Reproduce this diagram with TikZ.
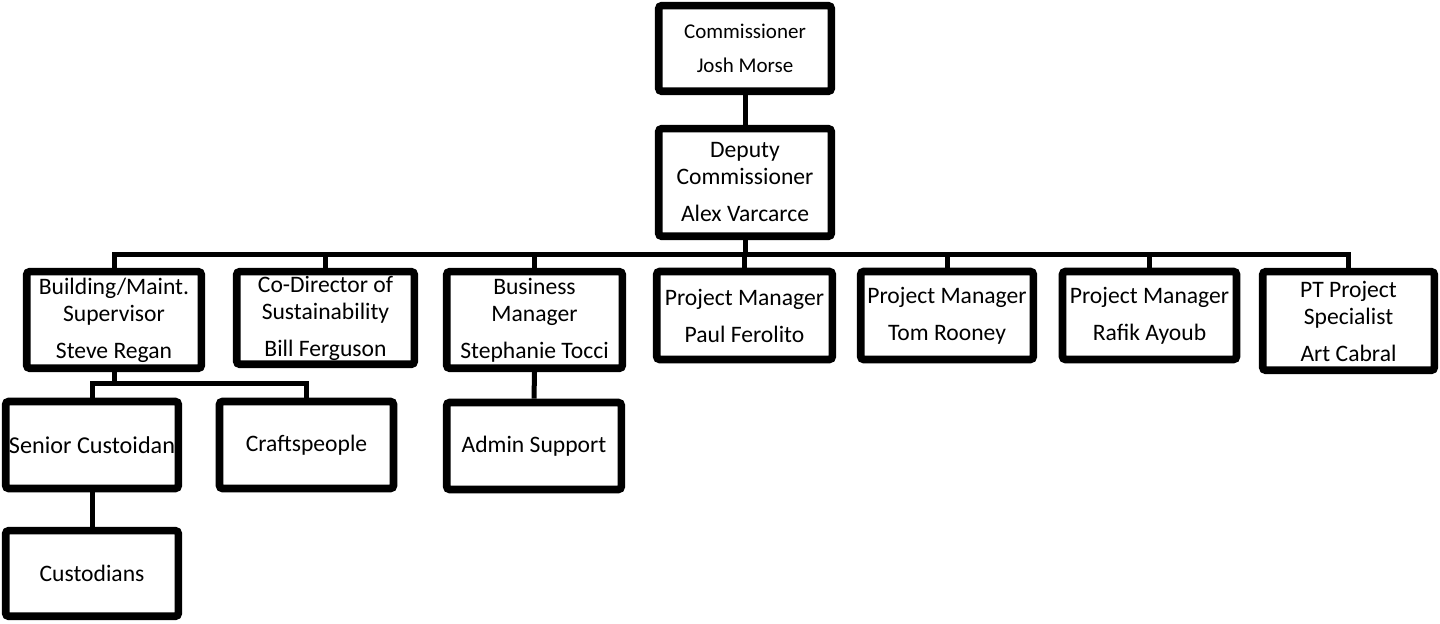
\documentclass[tikz,border=0pt]{standalone}
\usepackage{fontspec}
\setmainfont{Carlito}
\usetikzlibrary{positioning,shadows}
\tikzset{
  orgnode/.style = {align=center, inner sep=0pt, rectangle, draw=black, line width=3.8pt,
  rounded corners=1.5pt, fill=white, text=black, font=\fontsize{11.8}{13.5}\selectfont,
  drop shadow={shadow xshift=1pt, shadow yshift=-1.5pt, opacity=0.22}},
  org_top/.style = {orgnode, font=\fontsize{10.5}{12.5}\selectfont},
  org_n/.style = {orgnode, minimum width=87pt, minimum height=43.5pt},
  org_pm/.style = {orgnode, minimum width=87pt, minimum height=44pt}
}

\begin{document}
\begin{tikzpicture}[x=0.5pt, y=-0.5pt,
        link/.style={draw=black, line width=2.5pt}]
  \useasboundingbox (0,0) rectangle (1440,624);
  % commissioner and deputy
  \node [org_top, minimum width=86.3pt, minimum height=42.8pt] (comm) at (745,48.5)
    {Commissioner\\[4.5pt]Josh Morse};
  \node [orgnode, minimum width=86.3pt, minimum height=53.8pt] (dep) at (745,182.5)
    {Deputy\\Commissioner\\[5pt]Alex Varcarce};
  % second row
  \node [orgnode, minimum width=87.3pt, minimum height=48.3pt] (bldg) at (114,320)
    {Building/Maint.\\Supervisor\\[5pt]Steve Regan};
  \node [orgnode, minimum width=88.8pt, minimum height=46.3pt] (codir) at (325.5,318)
    {Co-Director of\\Sustainability\\[5pt]Bill Ferguson};
  \node [orgnode, minimum width=87.8pt, minimum height=48.3pt] (biz) at (534.5,320)
    {Business\\Manager\\[5pt]Stephanie Tocci};
  \node [org_pm, minimum width=87.8pt] (pm1) at (744.5,315.5) {Project Manager\\[5pt]Paul Ferolito};
  \node [org_pm, minimum width=86.3pt] (pm2) at (947,315.5) {Project Manager\\[5pt]Tom Rooney};
  \node [org_pm] (pm3) at (1149.5,315.5) {Project Manager\\[5pt]Rafik Ayoub};
  \node [orgnode, minimum width=85.8pt, minimum height=49.3pt] (pts) at (1348.5,321)
    {PT Project\\Specialist\\[5pt]Art Cabral};
  % third and fourth row
  \node [org_n, minimum width=86.3pt, font=\fontsize{12.1}{13.5}\selectfont] (senior) at (92,445)
    {Senior Custoidan};
  \node [org_n] (craft) at (306.5,445) {Craftspeople};
  \node [org_n, minimum width=87.3pt] (admin) at (534,446) {Admin Support};
  \node [org_n, minimum width=86.3pt, minimum height=42.8pt] (cust) at (92,573.5) {Custodians};

  % connectors
  \coordinate (bus) at (745,255);
  \coordinate (bldgbus) at (114,384);
  \draw[link] (comm.south) -- (dep.north);
  \draw[link] (dep.south) -- (bus);
  \foreach \n in {bldg,codir,biz,pm1,pm2,pm3,pts}
    \draw[link] (bus) -| (\n.north);
  \draw[link] (bldg.south) -- (bldgbus);
  \draw[link] (bldgbus) -| (senior.north);
  \draw[link] (bldgbus) -| (craft.north);
  \draw[link] (senior.south) -- (cust.north);
  \draw[link] (biz.south) -- (admin.north);
\end{tikzpicture}
\end{document}
